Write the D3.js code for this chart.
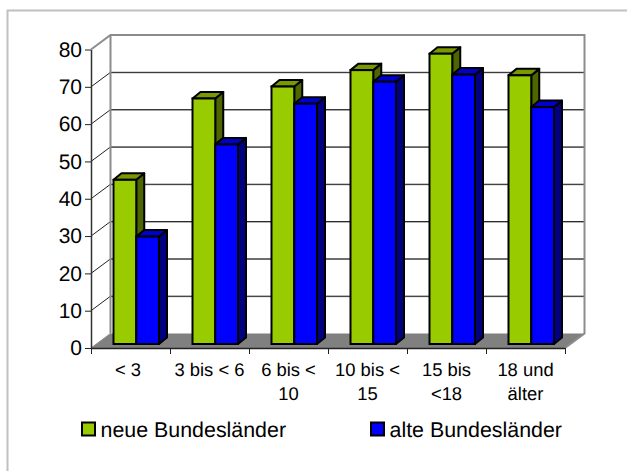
<!DOCTYPE html>
<html>
<head>
<meta charset="utf-8">
<script src="https://cdnjs.cloudflare.com/ajax/libs/d3/7.8.5/d3.min.js"></script>
<style>
  html, body { margin: 0; padding: 0; background: #fff; overflow: hidden; }
  text { font-family: "Liberation Sans", Arial, sans-serif; fill: #000; text-rendering: geometricPrecision; }
</style>
</head>
<body>
<script>
const categories = ["< 3", "3 bis < 6", "6 bis < 10", "10 bis < 15", "15 bis <18", "18 und älter"];
const labelLines = [["< 3\u00a0"], ["3 bis < 6"], ["6 bis <", "10"], ["10 bis <", "15"], ["15 bis", "<18"], ["18 und", "älter"]];
const seriesNames = ["neue Bundesländer", "alte Bundesländer"];
const neueValues = [44, 65.8, 69, 73.4, 77.8, 72];
const alteValues = [28.8, 53.5, 64.4, 70.3, 72.2, 63.5];
const yTicks = [0, 10, 20, 30, 40, 50, 60, 70, 80];

const width = 627;
const height = 471;
const frontLeft = 91;
const frontRight = 565;
const frontBottom = 348;
const frontTop = 49.5;
const wallDx = 19.5;
const wallDy = 14.5;
const barShiftY = 4;
const barDepthX = 8;
const barDepthY = 6.5;

const colors = [
  { face: "#99cc00", top: "#7a9900", side: "#4d6600" },
  { face: "#0000ff", top: "#0000cc", side: "#000080" }
];

const svg = d3.select("body").append("svg")
  .attr("width", width)
  .attr("height", height)
  .style("display", "block");

// outer frame, only top and left show
svg.append("path")
  .attr("d", `M7.5,${height} V10.5 H${width}`)
  .attr("fill", "none")
  .attr("stroke", "#c0c0c0")
  .attr("stroke-width", 2);

const x = d3.scaleBand().domain(categories).range([frontLeft, frontRight]);
const xEdges = d3.scaleLinear().domain([0, categories.length]).range([frontLeft, frontRight]);
const y = d3.scaleLinear().domain([0, 80]).range([frontBottom, frontTop]);
const xGroup = d3.scaleBand().domain([0, 1]).range([22.5, 68]);

const wall = (px, py) => `${px + wallDx},${py - wallDy}`;

// floor
svg.append("polygon")
  .attr("points", [
    `${frontLeft},${frontBottom}`, `${frontRight},${frontBottom}`,
    wall(frontRight, frontBottom), wall(frontLeft, frontBottom)
  ].join(" "))
  .attr("fill", "#808080");

// gridlines on the back wall and the diagonals on the side wall
yTicks.slice(1, -1).forEach(tick => {
  svg.append("line")
    .attr("x1", frontLeft + wallDx).attr("x2", frontRight + wallDx)
    .attr("y1", y(tick) - wallDy + 0.5).attr("y2", y(tick) - wallDy + 0.5)
    .attr("stroke", "#8c8c8c").attr("stroke-width", 1);
  svg.append("line")
    .attr("x1", frontLeft + wallDx).attr("x2", frontRight + wallDx)
    .attr("y1", y(tick) - wallDy).attr("y2", y(tick) - wallDy)
    .attr("stroke", "#222").attr("stroke-width", 1);
});
yTicks.slice(1, -1).forEach(tick => {
  svg.append("line")
    .attr("x1", frontLeft).attr("y1", y(tick))
    .attr("x2", frontLeft + wallDx).attr("y2", y(tick) - wallDy)
    .attr("stroke", "#222").attr("stroke-width", 1);
});

// wall borders
svg.append("path")
  .attr("d", `M${frontLeft},${y(80)} L${frontLeft + wallDx},${y(80) - wallDy} H${frontRight + wallDx} V${y(0) - wallDy} L${frontRight},${y(0)}`)
  .attr("fill", "none").attr("stroke", "#8c8c8c").attr("stroke-width", 2);
svg.append("line")
  .attr("x1", frontLeft + wallDx).attr("x2", frontLeft + wallDx)
  .attr("y1", y(80) - wallDy).attr("y2", y(0) - wallDy)
  .attr("stroke", "#8c8c8c").attr("stroke-width", 2);
svg.append("line")
  .attr("x1", frontLeft).attr("y1", y(0))
  .attr("x2", frontLeft + wallDx).attr("y2", y(0) - wallDy)
  .attr("stroke", "#8c8c8c").attr("stroke-width", 1);

// bars, blue drawn after green so it covers the green side
[neueValues, alteValues].forEach((values, s) => {
  const group = svg.append("g");
  values.forEach((value, i) => {
    const left = x(categories[i]) + xGroup(s);
    const right = left + xGroup.bandwidth();
    const top = y(value) - barShiftY;
    const bottom = y(0) - barShiftY;
    const c = colors[s];
    group.append("polygon")
      .attr("points", `${right},${top} ${right + barDepthX},${top - barDepthY} ${right + barDepthX},${bottom - barDepthY} ${right},${bottom}`)
      .attr("fill", c.side).attr("stroke", "#000").attr("stroke-width", 2).attr("stroke-linejoin", "round");
    group.append("polygon")
      .attr("points", `${left},${top} ${left + barDepthX},${top - barDepthY} ${right + barDepthX},${top - barDepthY} ${right},${top}`)
      .attr("fill", c.top).attr("stroke", "#000").attr("stroke-width", 2).attr("stroke-linejoin", "round");
    group.append("rect")
      .attr("x", left).attr("y", top)
      .attr("width", right - left).attr("height", bottom - top)
      .attr("fill", c.face).attr("stroke", "#000").attr("stroke-width", 2);
  });
});

// axes
const yAxis = svg.append("g")
  .attr("transform", `translate(${frontLeft},0)`)
  .call(d3.axisLeft(y).tickValues(yTicks).tickSize(6).tickPadding(3).tickSizeOuter(0));
yAxis.selectAll("text").style("font-size", "21px").style("font-family", "'Liberation Sans', Arial, sans-serif");
yAxis.selectAll("line").attr("stroke", "#222");
yAxis.select(".domain").attr("stroke", "#333").attr("stroke-width", 1.5);

const xAxis = svg.append("g")
  .attr("transform", `translate(0,${frontBottom})`)
  .call(d3.axisBottom(xEdges).tickValues(d3.range(categories.length + 1)).tickFormat("").tickSize(6).tickSizeOuter(0));
xAxis.selectAll("line").attr("stroke", "#222");
xAxis.select(".domain").attr("stroke", "#222").attr("stroke-width", 1.5);

// category labels
categories.forEach((category, i) => {
  const label = svg.append("text")
    .attr("text-anchor", "middle")
    .style("font-size", "18.4px");
  labelLines[i].forEach((line, k) => {
    label.append("tspan")
      .attr("x", x(category) + x.bandwidth() / 2)
      .attr("y", 376 + k * 24)
      .text(line);
  });
});

// legend
const legendX = [81, 370];
seriesNames.forEach((name, s) => {
  svg.append("rect")
    .attr("x", legendX[s] + 1).attr("y", 422.5)
    .attr("width", 13).attr("height", 13)
    .attr("fill", colors[s].face).attr("stroke", "#000").attr("stroke-width", 2);
  svg.append("text")
    .attr("x", legendX[s] + 19.5).attr("y", 436.5)
    .style("font-size", "21.4px")
    .text(name);
});
</script>
</body>
</html>
